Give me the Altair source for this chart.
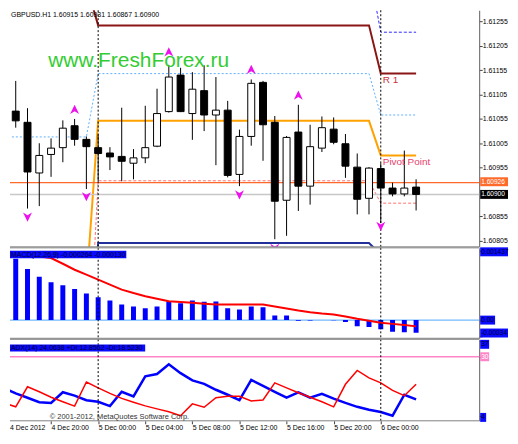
import altair as alt
import pandas as pd

# ---------------- data ----------------
# H1 bars, index 0 = 4 Dec 16:00 ... index 35 = 6 Dec 03:00
opens = [1.61233, 1.61071, 1.61048, 1.60944, 1.60982, 1.60996, 1.61041, 1.61013, 1.60996,
         1.60985, 1.60978, 1.60964, 1.60975, 1.60999, 1.61070, 1.61145, 1.61066, 1.61113,
         1.61063, 1.61073, 1.60941, 1.61019, 1.61130, 1.61048, 1.60888, 1.61028, 1.60917,
         1.60995, 1.61034, 1.61004, 1.60956, 1.60892, 1.60953, 1.60913, 1.60901, 1.60915]
highs = [1.61257, 1.61133, 1.61077, 1.61005, 1.61015, 1.61052, 1.61055, 1.61019, 1.61023,
         1.60997, 1.61078, 1.60993, 1.61082, 1.61117, 1.61166, 1.61160, 1.61151, 1.61165,
         1.61141, 1.61092, 1.61033, 1.61136, 1.61133, 1.61061, 1.61020, 1.61084, 1.61043,
         1.61060, 1.61058, 1.61024, 1.60984, 1.60956, 1.60964, 1.60924, 1.60990, 1.60931]
lows = [1.60999, 1.61037, 1.60871, 1.60876, 1.60936, 1.60966, 1.61000, 1.60911, 1.60927,
        1.60950, 1.60927, 1.60931, 1.60964, 1.60997, 1.61068, 1.61069, 1.61012, 1.61030,
        1.60960, 1.60935, 1.60917, 1.61000, 1.60969, 1.60808, 1.60815, 1.60866, 1.60879,
        1.60987, 1.61003, 1.60934, 1.60859, 1.60859, 1.60841, 1.60896, 1.60896, 1.60867]
closes = [1.61070, 1.61051, 1.60946, 1.60980, 1.60995, 1.61036, 1.61013, 1.60998, 1.60984,
          1.60977, 1.60968, 1.60975, 1.60996, 1.61066, 1.61141, 1.61070, 1.61116, 1.61063,
          1.61073, 1.60939, 1.61019, 1.61128, 1.61043, 1.60886, 1.61017, 1.60917, 1.60998,
          1.61037, 1.61007, 1.60958, 1.60890, 1.60954, 1.60913, 1.60901, 1.60913, 1.60900]

day_first_bar = [0, 8, 32]          # 4 Dec, 5 Dec, 6 Dec
time_ticks = [4, 8, 12, 16, 20, 24, 28, 32]
time_labels = ["4 Dec 20:00", "5 Dec 00:00", "5 Dec 04:00", "5 Dec 08:00",
               "5 Dec 12:00", "5 Dec 16:00", "5 Dec 20:00", "6 Dec 00:00"]
first_time_label = "4 Dec 2012"

# daily levels [4 Dec, 5 Dec, 6 Dec]
level_r1 = [1.61331, 1.61247, 1.61148]
level_pivot = [1.60712, 1.61051, 1.60980]
level_mid = [1.61018, 1.61148, 1.61063]
level_r2 = [1.61400, 1.61363, 1.61233]
level_s1 = [1.60466, 1.60928, 1.60882]
level_s2 = [1.60500, 1.60800, 1.60777]

line_orange = 1.60924
line_bid = 1.60900

fractal_up_bar = [6, 14, 21, 25]
fractal_up_price = [1.61074, 1.61192, 1.61156, 1.61103]
fractal_dn_bar = [2, 7, 20, 23, 32]
fractal_dn_price = [1.60854, 1.60896, 1.60900, 1.60790, 1.60835]

price_ticks = [1.61255, 1.61205, 1.61155, 1.61105, 1.61055, 1.61005, 1.60955, 1.60855, 1.60805]

macd_hist = [0.001437, 0.001272, 0.001060, 0.000901, 0.000784, 0.000722, 0.000647, 0.000551,
             0.000474, 0.000406, 0.000324, 0.000282, 0.000247, 0.000282, 0.000392, 0.000351,
             0.000406, 0.000379, 0.000385, 0.000247, 0.000221, 0.000282, 0.000268, 0.000097,
             0.000097, -0.000012, -0.000010, 0.000003, -0.000004, -0.000041, -0.000130,
             -0.000144, -0.000192, -0.000239, -0.000254, -0.000264]
macd_signal = [0.001423, 0.001390, 0.001355, 0.001320, 0.001287, 0.001169, 0.001045, 0.000942,
               0.000839, 0.000736, 0.000633, 0.000561, 0.000495, 0.000441, 0.000392, 0.000375,
               0.000359, 0.000340, 0.000324, 0.000324, 0.000324, 0.000324, 0.000324, 0.000282,
               0.000241, 0.000200, 0.000165, 0.000138, 0.000118, 0.000076, 0.000029, -0.000012,
               -0.000054, -0.000078, -0.000101, -0.000130]
plus_di = [16.3, 13.9, 12.0, 10.0, 9.7, 14.4, 12.9, 10.9, 10.2, 8.3, 14.6, 12.6, 21.4, 22.4,
           26.7, 22.8, 19.6, 18.1, 15.5, 13.3, 10.9, 19.8, 17.2, 14.6, 12.0, 14.3, 12.0, 13.7,
           11.6, 9.7, 8.0, 6.7, 5.7, 4.1, 13.3, 11.3]
minus_di = [9.7, 8.0, 16.8, 14.6, 12.2, 10.2, 8.3, 18.9, 16.3, 13.9, 11.7, 10.0, 8.4, 7.1,
            5.8, 4.1, 9.3, 7.8, 12.0, 12.6, 12.6, 10.6, 11.0, 18.5, 16.3, 14.2, 12.2, 10.2,
            8.0, 17.9, 24.0, 20.7, 18.5, 15.2, 12.9, 17.9]
adx_level = 30

header_text = "GBPUSD.H1  1.60915 1.60931 1.60867 1.60900"
watermark = "www.FreshForex.ru"
macd_title = "MACD(12,26,9) -0.000264 -0.000130"
adx_title = "ADX(14) 24.0638 +DI:12.8562 -DI:18.5230"
copyright_text = "\u00a9 2001-2012, MetaQuotes Software Corp."

# ---------------- layout ----------------
FONT = "Liberation Sans"
W = 472
H_MAIN, H_MACD, H_ADX = 238, 91, 82
BAR_PX, X0 = 11.846, 1.93          # page x of bar 0 and bar spacing
PAGE_L, PAGE_T = 8, 8
x_dom = [(PAGE_L - X0) / BAR_PX, (PAGE_L + W - X0) / BAR_PX]
x_scale = alt.Scale(domain=x_dom, nice=False, zero=False, padding=0)

PRICE_PX, REF_P, REF_Y = 49000.0, 1.61255, 19.3
p_top = REF_P + (REF_Y - PAGE_T) / PRICE_PX
p_bot = REF_P - (PAGE_T + H_MAIN - REF_Y) / PRICE_PX
y_main = alt.Scale(domain=[p_bot, p_top], nice=False, zero=False, padding=0)

MACD_PX, MACD_ZERO_Y, MACD_TOP = 48500.0, 319.7, 247
y_macd = alt.Scale(domain=[(MACD_ZERO_Y - MACD_TOP - H_MACD) / MACD_PX,
                           (MACD_ZERO_Y - MACD_TOP) / MACD_PX], nice=False, zero=False, padding=0)
y_adx = alt.Scale(domain=[1.85, 37.68], nice=False, zero=False, padding=0)

n = len(opens)
idx = list(range(n))


def day_of(i):
    d = 0
    for k, b in enumerate(day_first_bar):
        if i >= b:
            d = k
    return d


# ---------------- axes ----------------
main_axis = alt.Axis(orient="right", values=price_ticks, format=".5f", title=None,
                     tickSize=3, tickColor="#404040", domainColor="#606060",
                     labelPadding=0, labelFontSize=7, labelColor="#000000",
                     labelFont=FONT, labelOverlap=False, labelFlush=False, grid=False)
macd_axis = alt.Axis(orient="right", values=[0.001437, 0.0, -0.00034], labels=False, title=None,
                     tickSize=3, tickColor="#404040", domainColor="#606060", grid=False)
adx_axis = alt.Axis(orient="right", values=[37, 30, 4], labels=False, title=None,
                    tickSize=3, tickColor="#404040", domainColor="#606060", grid=False)
label_expr = " : ".join(f"datum.value == {t} ? '{lab}'"
                        for t, lab in zip(time_ticks, time_labels)) + " : ''"
time_axis = alt.Axis(orient="bottom", values=time_ticks, labelExpr=label_expr, title=None,
                     labelAlign="left", labelBaseline="top", labelPadding=0, tickSize=3,
                     tickColor="#404040", domain=False, labelFontSize=7, labelFont=FONT,
                     labelColor="#000000", labelOverlap=False, labelFlush=False, grid=False)


def X(ax=None, field="i"):
    return alt.X(f"{field}:Q", scale=x_scale, axis=ax)


def Y(field, sc, ax):
    return alt.Y(f"{field}:Q", scale=sc, axis=ax)


def xdatum(v, ax=None):
    return alt.datum(v, type="quantitative", scale=x_scale, axis=ax)


def ydatum(v, sc, ax):
    return alt.datum(v, type="quantitative", scale=sc, axis=ax)


def axis_box(sc, ax, value, label, bg, fg, width, yoff=0.0, h=9):
    base = alt.Chart(pd.DataFrame({"t": [label]}))
    rect = base.mark_rect(color=bg, yOffset=-h / 2 + yoff, y2Offset=h / 2 + yoff).encode(
        x=alt.value(W + 1), x2=alt.value(W + 1 + width),
        y=ydatum(value, sc, ax), y2=alt.datum(value))
    txt = base.mark_text(align="left", baseline="middle", dy=yoff, fontSize=6.6, font=FONT,
                         color=fg).encode(x=alt.value(W + 2), y=ydatum(value, sc, ax), text="t:N")
    return [rect, txt]


def separators(ax=None):
    return alt.Chart(pd.DataFrame({"i": day_first_bar[1:]})).mark_rule(
        color="#000000", strokeDash=[2, 2], strokeWidth=1).encode(x=X(ax))


def border(y):
    return alt.Chart(pd.DataFrame({"a": [0]})).mark_rule(color="#808080", strokeWidth=1).encode(
        y=alt.value(y))


def title_box(label, y0, y1, x1):
    base = alt.Chart(pd.DataFrame({"t": [label]}))
    rect = base.mark_rect(color="#0a0aff").encode(
        x=alt.value(0), x2=alt.value(x1), y=alt.value(y0), y2=alt.value(y1))
    txt = base.mark_text(align="left", baseline="middle", fontSize=7, font=FONT,
                         color="#000033").encode(x=alt.value(1), y=alt.value((y0 + y1) / 2),
                                                 text="t:N")
    return [rect, txt]


# ---------------- main price panel ----------------
candles = pd.DataFrame({"i": idx, "o": opens, "h": highs, "l": lows, "c": closes})
candles["dir"] = ["up" if c >= o else "down" for o, c in zip(opens, closes)]

main_layers = []
for vals, col, sw, dash in [
    (level_s2, "#202f99", 2, None),
    (level_s1, "#ff7070", 1, [3, 2]),
    (level_mid, "#5fb0ff", 1, [2, 2]),
    (level_r2, "#2a2aff", 1, [3, 2]),
    (level_pivot, "#ffa200", 2, None),
    (level_r1, "#8a1515", 2, None),
]:
    df = pd.DataFrame({"i": idx, "v": [vals[day_of(i)] for i in idx]})
    mk = dict(color=col, strokeWidth=sw, clip=True)
    if dash:
        mk["strokeDash"] = dash
    main_layers.append(alt.Chart(df).mark_line(**mk).encode(x=X(), y=Y("v", y_main, main_axis)))

main_layers.append(alt.Chart(pd.DataFrame({"v": [line_bid]})).mark_rule(
    color="#c8c8c8", strokeWidth=1.5).encode(y=Y("v", y_main, main_axis)))
main_layers.append(alt.Chart(pd.DataFrame({"v": [line_orange]})).mark_rule(
    color="#ff6a2b", strokeWidth=1.2).encode(y=Y("v", y_main, main_axis)))
main_layers.append(separators())

main_layers.append(alt.Chart(candles).mark_rule(color="#000000", strokeWidth=1, clip=True).encode(
    x=X(), y=Y("l", y_main, main_axis), y2="h:Q"))
main_layers.append(alt.Chart(candles).mark_bar(size=7, stroke="#000000", strokeWidth=1,
                                               clip=True).encode(
    x=X(), y=Y("o", y_main, main_axis), y2="c:Q",
    fill=alt.Fill("dir:N", scale=alt.Scale(domain=["up", "down"], range=["#ffffff", "#000000"]),
                  legend=None)))

up_shape = "M0,-1L0.9,0.85L0,0.3L-0.9,0.85Z"
dn_shape = "M0,1L0.9,-0.85L0,-0.3L-0.9,-0.85Z"
main_layers.append(alt.Chart(pd.DataFrame({"i": fractal_up_bar, "p": fractal_up_price})).mark_point(
    shape=up_shape, filled=True, size=100, color="#ee11ee", opacity=1, clip=True).encode(
    x=X(), y=Y("p", y_main, main_axis)))
main_layers.append(alt.Chart(pd.DataFrame({"i": fractal_dn_bar, "p": fractal_dn_price})).mark_point(
    shape=dn_shape, filled=True, size=100, color="#ee11ee", opacity=1, clip=True).encode(
    x=X(), y=Y("p", y_main, main_axis)))

main_layers.append(alt.Chart(pd.DataFrame({"t": [watermark]})).mark_text(
    fontSize=21, font=FONT, color="#33cc33", align="center", baseline="alphabetic").encode(
    x=xdatum(11.44), y=ydatum(1.61162, y_main, main_axis), text="t:N"))
main_layers.append(alt.Chart(pd.DataFrame({"t": ["R 1"]})).mark_text(
    fontSize=10, font=FONT, color="#c8323c", align="left", baseline="middle", dx=2, dy=6.6).encode(
    x=xdatum(day_first_bar[2]), y=ydatum(level_r1[2], y_main, main_axis), text="t:N"))
main_layers.append(alt.Chart(pd.DataFrame({"t": ["Pivot Point"]})).mark_text(
    fontSize=10, font=FONT, color="#e83e6c", align="left", baseline="middle", dx=2, dy=7).encode(
    x=xdatum(day_first_bar[2]), y=ydatum(level_pivot[2], y_main, main_axis), text="t:N"))
main_layers.append(alt.Chart(pd.DataFrame({"t": [header_text]})).mark_text(
    fontSize=7, font=FONT, color="#000000", align="left", baseline="top").encode(
    x=alt.value(1), y=alt.value(1), text="t:N"))
main_layers.append(border(H_MAIN))
main_layers += axis_box(y_main, main_axis, 1.60926, "1.60926", "#ff6a2b", "#ffffff", 28)
main_layers += axis_box(y_main, main_axis, line_bid, "1.60900", "#000000", "#ffffff", 28)

main = alt.layer(*main_layers).properties(width=W, height=H_MAIN)

# ---------------- MACD panel ----------------
macd_df = pd.DataFrame({"i": idx, "h": macd_hist, "s": macd_signal})
macd_layers = [
    alt.Chart(pd.DataFrame({"v": [0.0]})).mark_rule(color="#4da6ff", strokeWidth=1).encode(
        y=Y("v", y_macd, macd_axis)),
    alt.Chart(macd_df).mark_bar(size=5, color="#0000ff", clip=True).encode(
        x=X(), y=Y("h", y_macd, macd_axis), y2=alt.datum(0)),
    alt.Chart(macd_df).mark_line(color="#ff0000", strokeWidth=2, clip=True).encode(
        x=X(), y=Y("s", y_macd, macd_axis)),
    separators(),
    border(0),
    border(H_MACD),
]
macd_layers += title_box(macd_title, 3, 10.5, 117)
macd_layers += axis_box(y_macd, macd_axis, 0.001437, "0.001437", "#0a0aff", "#000033", 28, yoff=1)
macd_layers += axis_box(y_macd, macd_axis, 0.0, "0.00", "#0a0aff", "#000033", 15)
macd_layers += axis_box(y_macd, macd_axis, -0.00034, "-0.00034", "#0a0aff", "#000033", 28, yoff=-3.5)
macd = alt.layer(*macd_layers).properties(width=W, height=H_MACD)

# ---------------- ADX panel ----------------
adx_df = pd.DataFrame({"i": idx, "p": plus_di, "m": minus_di})
adx_layers = [
    alt.Chart(pd.DataFrame({"v": [adx_level]})).mark_rule(color="#ff85c8", strokeWidth=1.5).encode(
        y=Y("v", y_adx, adx_axis)),
    alt.Chart(adx_df).mark_line(color="#0000ff", strokeWidth=2.5, clip=True).encode(
        x=X(time_axis), y=Y("p", y_adx, adx_axis)),
    alt.Chart(adx_df).mark_line(color="#ff0000", strokeWidth=1.5, clip=True).encode(
        x=X(time_axis), y=Y("m", y_adx, adx_axis)),
    separators(time_axis),
    border(0),
    border(H_ADX),
    alt.Chart(pd.DataFrame({"t": [copyright_text]})).mark_text(
        fontSize=7.5, font=FONT, color="#333333", align="left", baseline="middle").encode(
        x=alt.value(40), y=alt.value(H_ADX - 4), text="t:N"),
    alt.Chart(pd.DataFrame({"t": [first_time_label]})).mark_text(
        fontSize=7, font=FONT, color="#000000", align="left", baseline="top").encode(
        x=alt.value(0), y=alt.value(H_ADX + 3), text="t:N"),
]
adx_layers += title_box(adx_title, 5.3, 12.3, 136)
adx_layers += axis_box(y_adx, adx_axis, 37, "37", "#0a0aff", "#000033", 9, yoff=3.5)
adx_layers += axis_box(y_adx, adx_axis, adx_level, "30", "#ff85c8", "#ffffff", 9)
adx_layers += axis_box(y_adx, adx_axis, 4, "4", "#0a0aff", "#000033", 6, yoff=1.5)
adx = alt.layer(*adx_layers).properties(width=W, height=H_ADX)

chart = alt.vconcat(main, macd, adx, spacing=1, bounds="flush").properties(
    padding={"left": 0, "top": 0, "right": 0, "bottom": 0}
).configure_view(stroke="transparent").configure_axis(grid=False)

chart.save("out.html", embed_options={"renderer": "svg", "actions": False})
